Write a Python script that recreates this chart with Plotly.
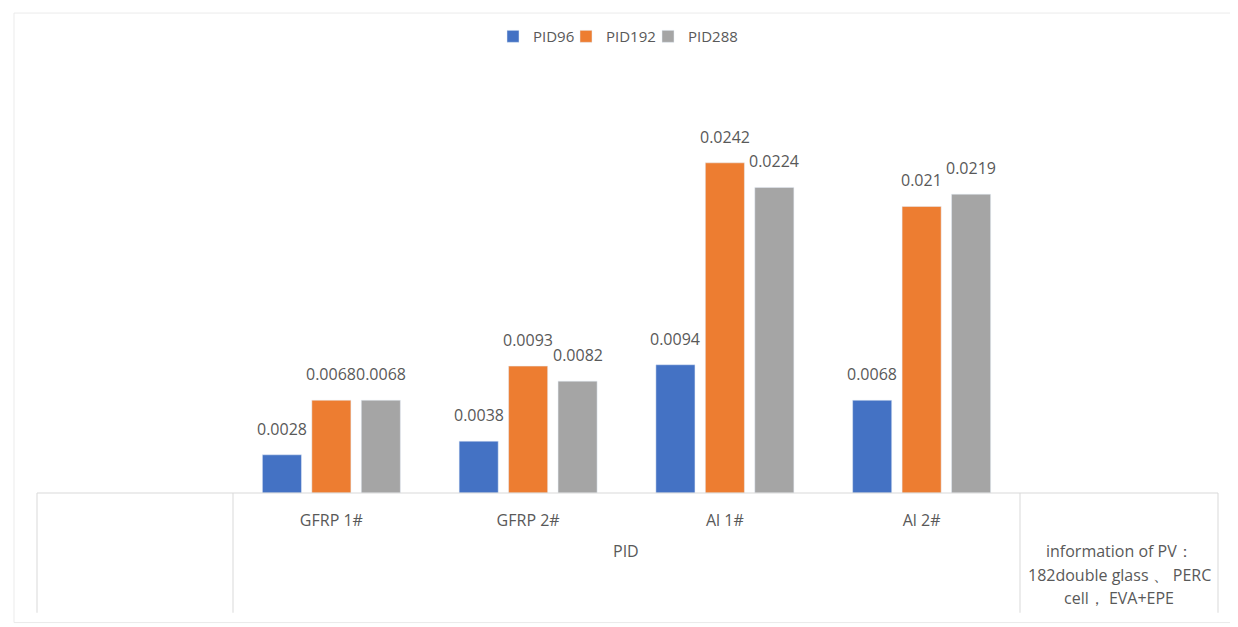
import plotly.graph_objects as go

categories = ["GFRP 1#", "GFRP 2#", "Al 1#", "Al 2#"]
series_names = ["PID96", "PID192", "PID288"]
pid96 = [0.0028, 0.0038, 0.0094, 0.0068]
pid192 = [0.0068, 0.0093, 0.0242, 0.021]
pid288 = [0.0068, 0.0082, 0.0224, 0.0219]
colors = ["#4472C4", "#ED7D31", "#A5A5A5"]
axis_title = "PID"
info_lines = ["information of PV\uff1a", "182double glass \u3001 PERC", "cell\uff0c EVA+EPE"]

OFF = 8                      # page body margin
W, H = 1238 - OFF, 627 - OFF
def X(v):
    return v - OFF
L, R = X(233), X(1020)        # plot area x (px)
TOP, BASE = X(60), X(493)     # plot area y (px)
px_per_unit = 13900.0
ymax = (BASE - TOP) / px_per_unit

TXT = "#595959"
FONT = "Open Sans"

pw = R - L
ph = BASE - TOP
def px(x):
    return (X(x) - L) / pw
def py(y):
    return (BASE - X(y)) / ph

legend_ids = ["legend", "legend2", "legend3"]
legend_left = [493, 566, 648]

fig = go.Figure()
for name, vals, col, lid in zip(series_names, [pid96, pid192, pid288], colors, legend_ids):
    fig.add_trace(go.Bar(name=name, x=categories, y=vals, marker_color=col, legend=lid, showlegend=True))

# data labels placed at the bars' data coordinates
offsets = [-49.5, 0, 49.5]
annotations = []
for vals, dx in zip([pid96, pid192, pid288], offsets):
    for c, v in zip(categories, vals):
        annotations.append(dict(x=c, y=v, xref="x", yref="y", text=f"{v:g}", showarrow=False,
                                xshift=dx, yshift=13, yanchor="bottom", xanchor="center",
                                font=dict(family=FONT, size=16, color=TXT)))

line = dict(color="#D9D9D9", width=1)
shapes = [
    dict(type="line", xref="paper", yref="paper", x0=px(37), x1=px(1218), y0=py(493), y1=py(493), line=line),
]
for xv in [37, 233, 1020, 1218]:
    shapes.append(dict(type="line", xref="paper", yref="paper", x0=px(xv), x1=px(xv), y0=py(493), y1=py(615), line=line))
shapes.append(dict(type="rect", xref="paper", yref="paper", x0=px(14), x1=px(1232), y0=py(4), y1=py(625),
                   line=dict(color="#EBEBEB", width=1)))

annotations.append(dict(text=axis_title, xref="paper", yref="paper", x=px(626), y=py(552), showarrow=False,
                        font=dict(family=FONT, size=16, color=TXT), xanchor="center", yanchor="middle"))
for line_text, yy in zip(info_lines, [552, 577, 600]):
    annotations.append(dict(text=line_text, xref="paper", yref="paper", x=px(1119), y=py(yy), showarrow=False,
                            font=dict(family=FONT, size=16, color=TXT), xanchor="center", yanchor="middle"))

legend_common = dict(orientation="h", yanchor="middle", y=py(28),
                     font=dict(family=FONT, size=15, color=TXT), bgcolor="rgba(0,0,0,0)")
legends = {lid: dict(legend_common, x=px(xl), xanchor="left") for lid, xl in zip(legend_ids, legend_left)}

fig.update_layout(
    width=W, height=H,
    showlegend=True,
    margin=dict(l=L, r=W - R, t=TOP, b=H - BASE, pad=0),
    paper_bgcolor="white", plot_bgcolor="white",
    barmode="group", bargap=0.246, bargroupgap=0.21,
    font=dict(family=FONT, color=TXT),
    xaxis=dict(showgrid=False, showline=False, zeroline=False, ticks="",
               ticklabelstandoff=16, tickfont=dict(family=FONT, size=16, color=TXT)),
    yaxis=dict(range=[0, ymax], visible=False, showgrid=False, zeroline=False),
    shapes=shapes, annotations=annotations,
    **legends,
)

fig.write_html("out.html")
